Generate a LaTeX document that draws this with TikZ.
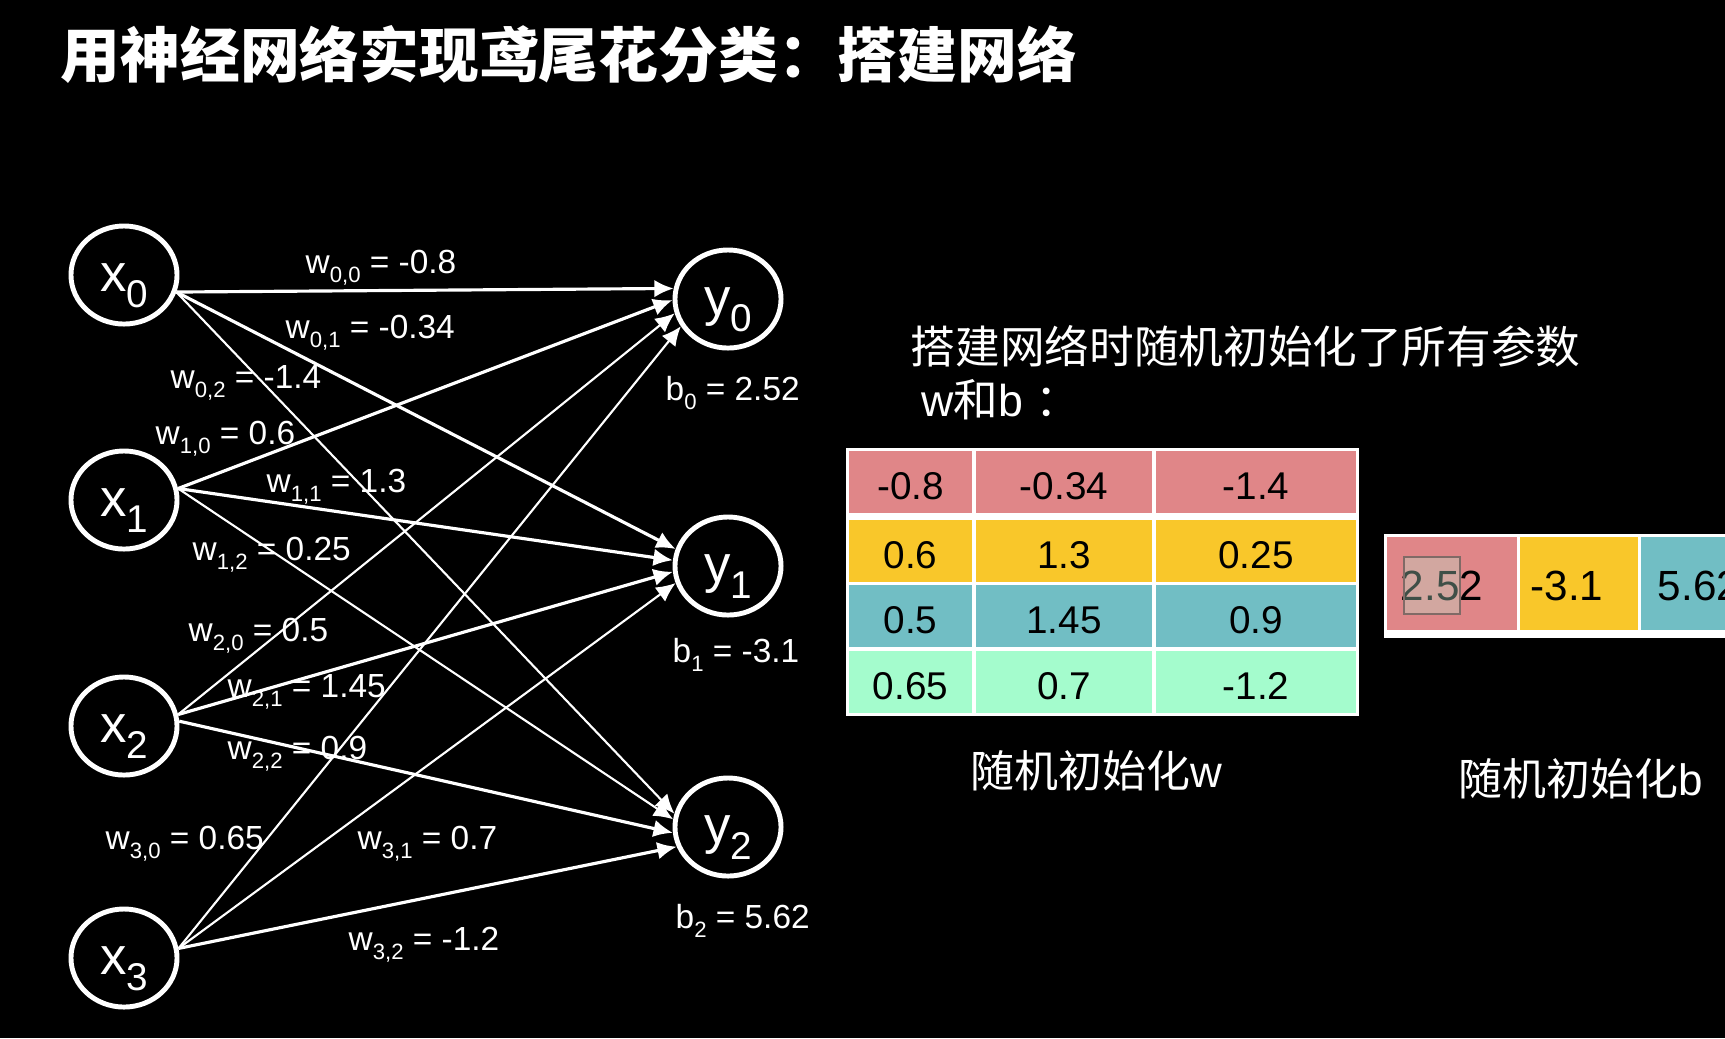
\documentclass[tikz,border=0pt]{standalone}
\usepackage{fontspec}
\setmainfont{Liberation Sans}
\newfontfamily\cjk{Noto Sans CJK SC}
\usetikzlibrary{arrows.meta,shapes.geometric}

\definecolor{wred}{RGB}{224,134,136}
\definecolor{wyellow}{RGB}{249,199,42}
\definecolor{wteal}{RGB}{113,190,196}
\definecolor{wmint}{RGB}{164,252,205}
\definecolor{hlfill}{RGB}{185,232,209}
\definecolor{hlline}{RGB}{128,106,102}

\newcommand{\wsub}[1]{\raisebox{-2.6pt}{\fontsize{6.3}{7}\selectfont #1}}
\newcommand{\nsub}[1]{\raisebox{-4.6pt}{\fontsize{11}{12}\selectfont #1}}

\tikzset{
  neuron/.style={ellipse, draw=white, line width=1.4pt, minimum width=1.06cm, minimum height=0.98cm, inner sep=0pt, text=white, text height=14pt, text depth=4.6pt, font=\fontsize{15}{17}\selectfont},
  weight/.style={anchor=base west, inner sep=0pt, text=white, font=\fontsize{9.5}{11}\selectfont},
  link/.style={draw=white, line width=0.9pt, -{Latex[length=5.5pt,width=5pt]}},
  thinlink/.style={link, line width=0.6pt},
  cell/.style={inner sep=0pt, minimum height=0.62cm, text height=10.1pt, text depth=0pt, text=black, font=\fontsize{11}{13}\selectfont},
  c1/.style={cell, minimum width=1.23cm},
  c2/.style={cell, minimum width=1.76cm},
  c3/.style={cell, minimum width=2.0cm},
  bval/.style={inner sep=0pt, text=black, font=\fontsize{12}{14}\selectfont},
  caption/.style={anchor=west, inner sep=0pt, text=white, font=\fontsize{12.5}{15}\selectfont}
}

\begin{document}
\begin{tikzpicture}[x=0.01cm, y=-0.01cm]
  \useasboundingbox (0,0) rectangle (1725,1038);
  \fill[black] (0,0) rectangle (1725,1038);

  \node[anchor=west, inner sep=0pt, text=white, font=\cjk\bfseries\fontsize{17}{20}\selectfont] (title) at (60,54) {用神经网络实现鸢尾花分类：搭建网络};

  \node[neuron] (x0) at (124,275) {x\nsub{0}};
  \node[neuron] (x1) at (124,500) {x\nsub{1}};
  \node[neuron] (x2) at (124,726) {x\nsub{2}};
  \node[neuron] (x3) at (124,958) {x\nsub{3}};
  \node[neuron] (y0) at (728,299) {y\nsub{0}};
  \node[neuron] (y1) at (728,566) {y\nsub{1}};
  \node[neuron] (y2) at (728,827) {y\nsub{2}};

  \draw[link] (x0.-18) -- (y0.169);
  \draw[link] (x0.-18) -- (y1.162);
  \draw[thinlink] (x0.-18) -- (y2.166);
  \draw[link] (x1.12) -- (y0.181);
  \draw[link] (x1.12) -- (y1.174);
  \draw[thinlink] (x1.12) -- (y2.172);
  \draw[thinlink] (x2.12) -- (y0.195);
  \draw[link] (x2.12) -- (y1.186);
  \draw[link] (x2.5) -- (y2.186);
  \draw[thinlink] (x3.10) -- (y0.210);
  \draw[thinlink] (x3.10) -- (y1.198);
  \draw[link] (x3.10) -- (y2.201);

  \node[weight] (w00) at (305,273) {w\wsub{0,0} = -0.8};
  \node[weight] (w01) at (285,338) {w\wsub{0,1} = -0.34};
  \node[weight] (w02) at (170,388) {w\wsub{0,2} = -1.4};
  \node[weight] (w10) at (155,444) {w\wsub{1,0} = 0.6};
  \node[weight] (w11) at (266,492) {w\wsub{1,1} = 1.3};
  \node[weight] (w12) at (192,560) {w\wsub{1,2} = 0.25};
  \node[weight] (w20) at (188,641) {w\wsub{2,0} = 0.5};
  \node[weight] (w21) at (227,697) {w\wsub{2,1} = 1.45};
  \node[weight] (w22) at (227,759) {w\wsub{2,2} = 0.9};
  \node[weight] (w30) at (105,849) {w\wsub{3,0} = 0.65};
  \node[weight] (w31) at (357,849) {w\wsub{3,1} = 0.7};
  \node[weight] (w32) at (348,950) {w\wsub{3,2} = -1.2};
  \node[weight] (b0) at (665,400) {b\wsub{0} = 2.52};
  \node[weight] (b1) at (672,662) {b\wsub{1} = -3.1};
  \node[weight] (b2) at (675,928) {b\wsub{2} = 5.62};

  \node[anchor=west, inner sep=0pt, text=white, font=\cjk\fontsize{12.7}{15}\selectfont] (note) at (910,346) {搭建网络时随机初始化了所有参数};
  \node[anchor=west, inner sep=0pt, text=white, font=\fontsize{12.7}{15}\selectfont] (note2) at (921,400) {w{\cjk 和}b {\cjk ：}};

  \fill[white] (846,448) rectangle (1359,716);
  \node[c1, fill=wred] (m00) at (910.5,482) {-0.8};
  \node[c2, fill=wred] (m01) at (1064,482) {-0.34};
  \node[c3, fill=wred] (m02) at (1256,482) {-1.4};
  \node[c1, fill=wyellow] (m10) at (910.5,550.5) {0.6};
  \node[c2, fill=wyellow] (m11) at (1064,550.5) {1.3};
  \node[c3, fill=wyellow] (m12) at (1256,550.5) {0.25};
  \node[c1, fill=wteal] (m20) at (910.5,615.5) {0.5};
  \node[c2, fill=wteal] (m21) at (1064,615.5) {1.45};
  \node[c3, fill=wteal] (m22) at (1256,615.5) {0.9};
  \node[c1, fill=wmint] (m30) at (910.5,681.5) {0.65};
  \node[c2, fill=wmint] (m31) at (1064,681.5) {0.7};
  \node[c3, fill=wmint] (m32) at (1256,681.5) {-1.2};

  \fill[white] (1384,534) rectangle (1725,638);
  \fill[wred] (1387,537) rectangle (1517,630);
  \fill[wyellow] (1520,537) rectangle (1638,630);
  \fill[wteal] (1641,537) rectangle (1725,630);
  \node[bval] (v0) at (1442,586) {2.52};
  \node[bval] (v1) at (1567,586) {-3.1};
  \node[bval] (v2) at (1699,586) {5.62};
  \draw[hlline, line width=0.5pt, fill=hlfill, fill opacity=0.34] (1404,557) rectangle (1460,614);

  \node[caption] (wcap) at (970,771) {{\cjk 随机初始化}w};
  \node[caption] (bcap) at (1458,779) {{\cjk 随机初始化}b};
\end{tikzpicture}
\end{document}
